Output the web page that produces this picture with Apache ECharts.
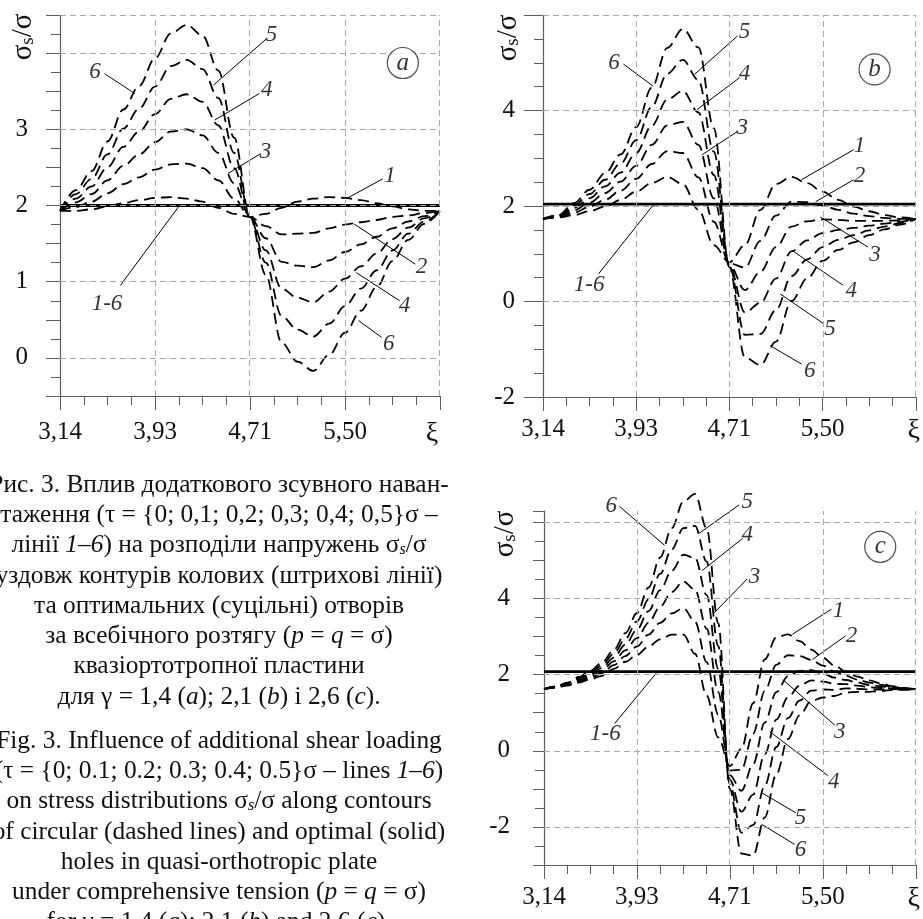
<!DOCTYPE html>
<html>
<head>
<meta charset="utf-8">
<title>σs/σ – Fig. 3</title>
<script src="https://cdn.jsdelivr.net/npm/echarts@6/dist/echarts.min.js"></script>
<style>
  html, body { margin: 0; padding: 0; background: #fff; }
  #chart { width: 923px; height: 919px; }
</style>
</head>
<body>
<div id="chart"></div>
<script>
// ξ grid for panels a and b (step π/24)
const xiAB = [3.142, 3.272, 3.403, 3.534, 3.665, 3.796, 3.927, 4.058, 4.189, 4.320, 4.451, 4.581, 4.712,
  4.843, 4.974, 5.105, 5.236, 5.367, 5.498, 5.629, 5.760, 5.890, 6.021, 6.152, 6.283];
// ξ grid for panel c (step π/32)
const xiC = [3.142, 3.240, 3.338, 3.436, 3.534, 3.632, 3.731, 3.829, 3.927, 4.025, 4.123, 4.221, 4.320,
  4.418, 4.516, 4.614, 4.712, 4.810, 4.909, 5.007, 5.105, 5.203, 5.301, 5.400, 5.498, 5.596, 5.694,
  5.792, 5.890, 5.989, 6.087, 6.185, 6.283];

// panel a, γ = 1,4 — circular hole, lines 1..6
const a1 = [1.93, 1.93, 1.95, 1.99, 2.03, 2.07, 2.10, 2.11, 2.09, 2.05, 1.97, 1.89, 1.85, 1.89, 1.97, 2.05, 2.09, 2.11, 2.10, 2.07, 2.03, 1.99, 1.95, 1.93, 1.93];
const a2 = [1.93, 1.98, 2.05, 2.16, 2.28, 2.37, 2.47, 2.54, 2.55, 2.49, 2.33, 2.09, 1.85, 1.73, 1.62, 1.63, 1.64, 1.70, 1.75, 1.78, 1.81, 1.85, 1.87, 1.90, 1.93];
const a3 = [1.93, 2.04, 2.15, 2.33, 2.52, 2.67, 2.83, 2.97, 3.00, 2.92, 2.69, 2.29, 1.85, 1.57, 1.26, 1.21, 1.19, 1.28, 1.39, 1.49, 1.59, 1.70, 1.79, 1.86, 1.93];
const a4 = [1.93, 2.09, 2.25, 2.50, 2.77, 2.97, 3.20, 3.40, 3.46, 3.36, 3.05, 2.49, 1.85, 1.41, 0.91, 0.79, 0.73, 0.87, 1.04, 1.20, 1.37, 1.56, 1.71, 1.83, 1.93];
const a5 = [1.93, 2.15, 2.35, 2.67, 3.01, 3.27, 3.56, 3.83, 3.91, 3.79, 3.41, 2.69, 1.85, 1.25, 0.55, 0.37, 0.28, 0.45, 0.68, 0.91, 1.15, 1.41, 1.63, 1.79, 1.93];
const a6 = [1.93, 2.20, 2.45, 2.84, 3.26, 3.57, 3.93, 4.26, 4.37, 4.23, 3.77, 2.89, 1.85, 1.09, 0.20, -0.05, -0.17, 0.04, 0.33, 0.62, 0.93, 1.27, 1.55, 1.76, 1.93];

// panel b, γ = 2,1
const b1 = [1.73, 1.76, 1.81, 1.89, 1.99, 2.13, 2.30, 2.48, 2.61, 2.46, 1.92, 1.18, 0.82, 1.18, 1.92, 2.46, 2.61, 2.48, 2.30, 2.13, 1.99, 1.89, 1.81, 1.76, 1.73];
const b2 = [1.73, 1.77, 1.86, 1.98, 2.13, 2.32, 2.57, 2.88, 3.15, 3.11, 2.60, 1.67, 0.80, 0.71, 1.27, 1.80, 2.09, 2.08, 2.01, 1.92, 1.84, 1.79, 1.75, 1.73, 1.73];
const b3 = [1.73, 1.78, 1.91, 2.07, 2.27, 2.51, 2.84, 3.28, 3.69, 3.76, 3.28, 2.16, 0.78, 0.24, 0.62, 1.14, 1.57, 1.68, 1.72, 1.71, 1.69, 1.69, 1.69, 1.70, 1.73];
const b4 = [1.73, 1.79, 1.96, 2.16, 2.41, 2.70, 3.11, 3.68, 4.23, 4.41, 3.96, 2.65, 0.76, -0.23, -0.03, 0.48, 1.05, 1.28, 1.43, 1.50, 1.54, 1.59, 1.63, 1.67, 1.73];
const b5 = [1.73, 1.80, 2.01, 2.25, 2.55, 2.89, 3.38, 4.08, 4.77, 5.06, 4.64, 3.14, 0.74, -0.70, -0.68, -0.18, 0.53, 0.88, 1.14, 1.29, 1.39, 1.49, 1.57, 1.64, 1.73];
const b6 = [1.73, 1.81, 2.06, 2.34, 2.69, 3.08, 3.65, 4.48, 5.31, 5.71, 5.32, 3.63, 0.72, -1.17, -1.33, -0.84, 0.01, 0.48, 0.85, 1.08, 1.24, 1.39, 1.51, 1.61, 1.73];

// panel c, γ = 2,6
const c1 = [1.62, 1.66, 1.71, 1.79, 1.88, 1.97, 2.15, 2.34, 2.52, 2.74, 2.93, 3.05, 3.05, 2.55, 1.45, 0.35, -0.40, 0.05, 1.25, 2.40, 2.98, 3.06, 2.88, 2.66, 2.45, 2.24, 2.08, 1.95, 1.85, 1.77, 1.70, 1.65, 1.62];
const c2 = [1.62, 1.67, 1.73, 1.82, 1.92, 2.04, 2.25, 2.49, 2.74, 3.05, 3.36, 3.61, 3.75, 3.39, 2.33, 0.95, -0.52, -0.50, 0.45, 1.57, 2.26, 2.51, 2.49, 2.39, 2.24, 2.08, 1.97, 1.87, 1.79, 1.73, 1.68, 1.64, 1.62];
const c3 = [1.62, 1.67, 1.74, 1.85, 1.97, 2.11, 2.35, 2.64, 2.96, 3.36, 3.79, 4.17, 4.45, 4.23, 3.21, 1.55, -0.64, -1.05, -0.35, 0.74, 1.54, 1.96, 2.10, 2.12, 2.03, 1.92, 1.86, 1.79, 1.73, 1.69, 1.66, 1.63, 1.62];
const c4 = [1.62, 1.68, 1.76, 1.88, 2.01, 2.18, 2.45, 2.79, 3.18, 3.67, 4.22, 4.73, 5.15, 5.07, 4.09, 2.15, -0.76, -1.60, -1.15, -0.09, 0.82, 1.41, 1.71, 1.85, 1.82, 1.76, 1.75, 1.71, 1.67, 1.65, 1.64, 1.62, 1.62];
const c5 = [1.62, 1.68, 1.77, 1.91, 2.06, 2.25, 2.55, 2.94, 3.40, 3.98, 4.65, 5.29, 5.85, 5.91, 4.97, 2.75, -0.88, -2.15, -1.95, -0.92, 0.10, 0.86, 1.32, 1.58, 1.61, 1.60, 1.64, 1.63, 1.61, 1.61, 1.62, 1.61, 1.62];
const c6 = [1.62, 1.69, 1.79, 1.94, 2.10, 2.32, 2.65, 3.09, 3.62, 4.29, 5.08, 5.85, 6.55, 6.75, 5.85, 3.35, -1.00, -2.70, -2.75, -1.75, -0.62, 0.31, 0.93, 1.31, 1.40, 1.44, 1.53, 1.55, 1.55, 1.57, 1.60, 1.60, 1.62];

// optimal holes (solid lines 1-6 coincide)
const solidXi = [3.1416, 6.2832];
const solidA = [2.0, 2.0];
const solidB = [2.04, 2.04];
const solidC = [2.08, 2.08];

// curve labels: [text, ξ, value]
const labA = [['6', 3.43, 3.75], ['5', 4.89, 4.24], ['4', 4.85, 3.51], ['3', 4.84, 2.70], ['1', 5.87, 2.39],
  ['2', 6.13, 1.19], ['4', 5.99, 0.68], ['6', 5.86, 0.18], ['1-6', 3.53, 0.71]];
const labB = [['6', 3.74, 5.0], ['5', 4.84, 5.64], ['4', 4.84, 4.76], ['3', 4.82, 3.64], ['1', 5.81, 3.25],
  ['2', 5.81, 2.62], ['3', 5.94, 0.97], ['4', 5.74, 0.23], ['5', 5.56, -0.58], ['6', 5.39, -1.45], ['1-6', 3.53, 0.34]];
const labC = [['6', 3.71, 6.42], ['5', 4.86, 6.55], ['4', 4.86, 5.67], ['3', 4.92, 4.56], ['1', 5.63, 3.68],
  ['2', 5.74, 3.02], ['3', 5.64, 0.50], ['4', 5.59, -0.83], ['5', 5.31, -1.76], ['6', 5.31, -2.6], ['1-6', 3.66, 0.45]];

// leader lines: [ξ from, value from, ξ to, value to]
const leadA = [[3.51, 3.73, 3.76, 3.47], [4.85, 4.19, 4.41, 3.58], [4.79, 3.47, 4.42, 3.12], [4.80, 2.68, 4.53, 2.42],
  [5.81, 2.35, 5.51, 2.09], [6.08, 1.23, 5.57, 1.76], [5.95, 0.75, 5.59, 1.12], [5.80, 0.27, 5.61, 0.49], [3.64, 0.95, 4.12, 1.98]];
const leadB = [[3.82, 4.97, 4.07, 4.51], [4.78, 5.56, 4.42, 4.76], [4.80, 4.69, 4.44, 4.02], [4.78, 3.56, 4.48, 3.07],
  [5.76, 3.18, 5.32, 2.55], [5.76, 2.55, 5.44, 2.09], [5.88, 1.14, 5.48, 1.77], [5.67, 0.34, 5.24, 1.07],
  [5.51, -0.47, 5.14, 0.16], [5.32, -1.31, 5.06, -0.93], [3.61, 0.58, 4.07, 2.02]];
const leadC = [[3.78, 6.42, 4.16, 5.40], [4.79, 6.46, 4.45, 5.71], [4.82, 5.58, 4.48, 4.74], [4.86, 4.52, 4.57, 3.59],
  [5.57, 3.72, 5.24, 3.06], [5.69, 3.02, 5.41, 2.40], [5.60, 0.67, 5.16, 1.87], [5.54, -0.65, 5.05, 0.50],
  [5.27, -1.63, 4.98, -1.10], [5.26, -2.46, 4.98, -1.93], [3.74, 0.72, 4.09, 2.04]];

// dashed grid lines
const gridYA = [0, 1, 2, 3, 4, 4.5];
const gridYB = [0, 2, 4, 6];
const gridYC = [-2, 0, 2, 4, 6];
const gridX = [3.927, 4.712, 5.498, 6.2832];

const serif = 'Liberation Serif';
const axisGray = '#5e5e5e';

const chart = echarts.init(document.getElementById('chart'));

function fmtXi(v) {
  if (Math.abs(v - 2 * Math.PI) < 1e-6) return '{xi|ξ}';
  return v.toFixed(2).replace('.', ',');
}

function xAxisFor(i, margin, shift) {
  return {
    type: 'value', gridIndex: i, min: Math.PI, max: 2 * Math.PI, interval: Math.PI / 4,
    axisLine: { onZero: false, lineStyle: { color: axisGray, width: 1.2 } },
    axisTick: { length: 14, lineStyle: { color: axisGray } },
    minorTick: { show: true, splitNumber: 4, length: 9, lineStyle: { color: axisGray } },
    splitLine: { show: false },
    axisLabel: {
      margin, fontFamily: serif, fontSize: 25, color: '#111', formatter: fmtXi,
      rich: { xi: { fontFamily: serif, fontSize: 28, color: '#111', padding: [0, shift, 0, 0] } }
    }
  };
}

function yAxisFor(i, min, max, interval, minorSplit, tickLen, minorLen, margin, shown) {
  return {
    type: 'value', gridIndex: i, min, max, interval,
    axisLine: { onZero: false, lineStyle: { color: axisGray, width: 1.2 } },
    axisTick: { length: tickLen, lineStyle: { color: axisGray } },
    minorTick: { show: true, splitNumber: minorSplit, length: minorLen, lineStyle: { color: axisGray } },
    splitLine: { show: false },
    axisLabel: {
      margin, fontFamily: serif, fontSize: 25, color: '#111',
      formatter: v => {
        const r = Math.round(v);
        return (Math.abs(v - r) < 1e-6 && shown.indexOf(r) >= 0) ? String(r) : '';
      }
    }
  };
}

function curveSeries(xs, list, idx) {
  return list.map(ys => ({
    type: 'line', xAxisIndex: idx, yAxisIndex: idx, silent: true,
    data: xs.map((x, k) => [x, ys[k]]),
    smooth: 0.35, smoothMonotone: 'x', symbol: 'none', clip: false, z: 3,
    lineStyle: { color: '#000', width: 1.8, type: [11, 6] }
  }));
}

function solidSeries(ys, idx) {
  return {
    type: 'line', xAxisIndex: idx, yAxisIndex: idx, silent: true, symbol: 'none', z: 4,
    data: solidXi.map((x, k) => [x, ys[k]]),
    lineStyle: { color: '#000', width: 2.8 }
  };
}

function gridSeries(ys, xs, idx) {
  return {
    type: 'line', xAxisIndex: idx, yAxisIndex: idx, data: [], silent: true, z: 1,
    markLine: {
      silent: true, symbol: ['none', 'none'], label: { show: false },
      lineStyle: { color: '#a9a9a9', width: 1, type: [6, 4] },
      data: ys.map(v => ({ yAxis: v })).concat(xs.map(v => ({ xAxis: v })))
    }
  };
}

function leaderSeries(list, idx) {
  return list.map(l => ({
    type: 'line', xAxisIndex: idx, yAxisIndex: idx, silent: true, symbol: 'none', clip: false, z: 4,
    data: [[l[0], l[1]], [l[2], l[3]]],
    lineStyle: { color: '#000', width: 1 }
  }));
}

function labelSeries(list, idx) {
  return {
    type: 'scatter', xAxisIndex: idx, yAxisIndex: idx, silent: true, symbolSize: 1, clip: false, z: 5,
    itemStyle: { color: 'rgba(0,0,0,0)' },
    data: list.map(l => ({ name: l[0], value: [l[1], l[2]] })),
    label: { show: true, position: 'inside', formatter: '{b}', fontFamily: serif, fontStyle: 'italic', fontSize: 23, color: '#000' }
  };
}

function panelMark(letter, xi, val, idx) {
  return {
    type: 'scatter', xAxisIndex: idx, yAxisIndex: idx, silent: true, symbol: 'circle', symbolSize: 31, z: 5,
    itemStyle: { color: '#fff', borderColor: '#222', borderWidth: 1.2 },
    data: [{ name: letter, value: [xi, val] }],
    label: { show: true, position: 'inside', formatter: '{b}', fontFamily: serif, fontStyle: 'italic', fontSize: 25, color: '#000' }
  };
}

const captionUk = [
  'Рис. 3. Вплив додаткового зсувного наван-',
  'таження (τ = {0; 0,1; 0,2; 0,3; 0,4; 0,5}σ –',
  'лінії {i|1–6}) на розподіли напружень σ{sub|s}/σ',
  'уздовж контурів колових (штрихові лінії)',
  'та оптимальних (суцільні) отворів',
  'за всебічного розтягу ({i|p} = {i|q} = σ)',
  'квазіортотропної пластини',
  'для γ = 1,4 ({i|a}); 2,1 ({i|b}) і 2,6 ({i|c}).'
];
const captionEn = [
  'Fig. 3. Influence of additional shear loading',
  '(τ = {0; 0.1; 0.2; 0.3; 0.4; 0.5}σ – lines {i|1–6})',
  'on stress distributions σ{sub|s}/σ along contours',
  'of circular (dashed lines) and optimal (solid)',
  'holes in quasi-orthotropic plate',
  'under comprehensive tension ({i|p} = {i|q} = σ)',
  'for γ = 1.4 ({i|a}); 2.1 ({i|b}) and 2.6 ({i|c}).'
];

const capRich = {
  i: { fontFamily: serif, fontSize: 25.4, fontStyle: 'italic', fill: '#111' },
  sub: { fontFamily: serif, fontSize: 16, fontStyle: 'italic', fill: '#111', verticalAlign: 'bottom' }
};

function captionLine(text, y) {
  return {
    type: 'text', x: 219, y, silent: true,
    style: { text, fontFamily: serif, fontSize: 25.4, fill: '#111', align: 'center', verticalAlign: 'middle', rich: capRich }
  };
}

function yName(x, y) {
  return {
    type: 'text', x, y, rotation: Math.PI / 2, silent: true,
    style: {
      text: 'σ{s|s}/σ', fontFamily: serif, fontSize: 29, fill: '#111', align: 'center', verticalAlign: 'middle',
      rich: { s: { fontFamily: serif, fontSize: 19, fill: '#111', verticalAlign: 'bottom' } }
    }
  };
}

const option = {
  animation: false,
  backgroundColor: '#fff',
  grid: [
    { left: 60, top: 15, width: 380, height: 381 },
    { left: 543, top: 15, width: 381, height: 382 },
    { left: 544, top: 511, width: 382, height: 354 }
  ],
  xAxis: [xAxisFor(0, 24, 16), xAxisFor(1, 20, 4), xAxisFor(2, 20, 4)],
  yAxis: [
    yAxisFor(0, -0.5, 4.5, 0.5, 2, 14, 9, 32, [0, 1, 2, 3]),
    yAxisFor(1, -2, 6, 2, 4, 19, 9, 28, [-2, 0, 2, 4]),
    yAxisFor(2, -3, 6.3, 1, 2, 11, 9, 34, [-2, 0, 2, 4])
  ],
  series: [].concat(
    gridSeries(gridYA, gridX, 0),
    gridSeries(gridYB, gridX, 1),
    gridSeries(gridYC, gridX, 2),
    curveSeries(xiAB, [a1, a2, a3, a4, a5, a6], 0),
    curveSeries(xiAB, [b1, b2, b3, b4, b5, b6], 1),
    curveSeries(xiC, [c1, c2, c3, c4, c5, c6], 2),
    solidSeries(solidA, 0),
    solidSeries(solidB, 1),
    solidSeries(solidC, 2),
    leaderSeries(leadA, 0),
    leaderSeries(leadB, 1),
    leaderSeries(leadC, 2),
    labelSeries(labA, 0),
    labelSeries(labB, 1),
    labelSeries(labC, 2),
    panelMark('a', 5.976, 3.87, 0),
    panelMark('b', 5.936, 4.86, 1),
    panelMark('c', 5.983, 5.36, 2)
  ),
  graphic: [].concat(
    [yName(23, 37), yName(508, 38), yName(505, 534)],
    captionUk.map((t, k) => captionLine(t, 485 + k * 30.3)),
    captionEn.map((t, k) => captionLine(t, 741 + k * 30.3))
  )
};

chart.setOption(option);
</script>
</body>
</html>
